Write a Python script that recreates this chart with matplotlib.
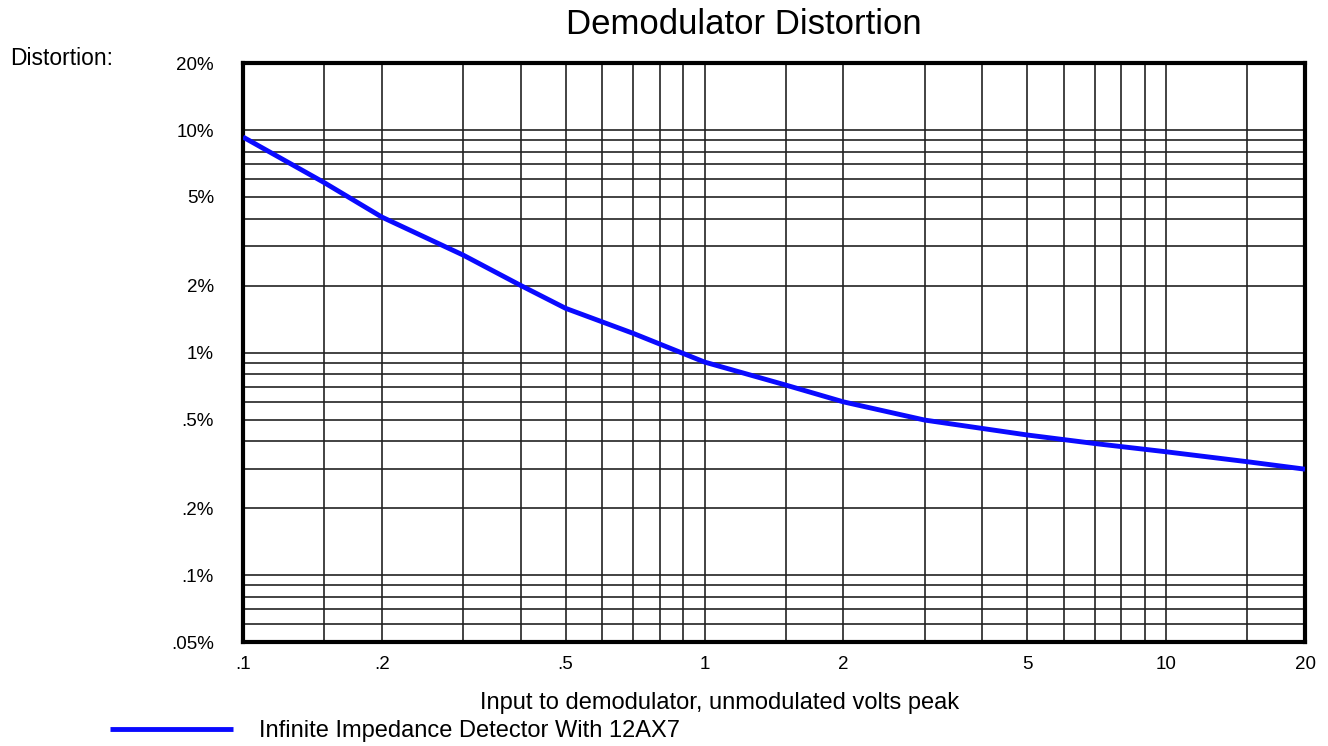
import numpy as np
import matplotlib
matplotlib.use('Agg')
import matplotlib.pyplot as plt

plt.rcParams['font.family'] = ['Liberation Sans', 'DejaVu Sans']

# curve: input volts peak vs distortion (%)
volts = [0.1, 0.15, 0.2, 0.3, 0.4, 0.5, 0.7, 1.0, 1.5, 2.0, 3.0, 5.0, 7.0, 10.0, 15.0, 20.0]
distortion = [9.3, 5.8, 4.06, 2.74, 2.0, 1.58, 1.22, 0.906, 0.714, 0.60, 0.497, 0.426, 0.39, 0.358, 0.323, 0.299]

xticks = [0.1, 0.2, 0.5, 1, 2, 5, 10, 20]
xticklabels = ['.1', '.2', '.5', '1', '2', '5', '10', '20']
xminor = [0.15, 0.3, 0.4, 0.6, 0.7, 0.8, 0.9, 1.5, 3, 4, 6, 7, 8, 9, 15]

yticks = [0.05, 0.1, 0.2, 0.5, 1, 2, 5, 10, 20]
yticklabels = ['.05%', '.1%', '.2%', '.5%', '1%', '2%', '5%', '10%', '20%']
yminor = [0.06, 0.07, 0.08, 0.09, 0.3, 0.4, 0.6, 0.7, 0.8, 0.9, 3, 4, 6, 7, 8, 9]

fig = plt.figure(figsize=(13.28, 7.46), dpi=100)
ax = fig.add_axes([0.183, 0.1394, 0.7997, 0.7761])

line, = ax.plot(volts, distortion, color='#0a0aff', lw=3.5, solid_capstyle='butt',
                label='Infinite Impedance Detector With 12AX7', zorder=3)

ax.set_xscale('log')
ax.set_yscale('log')
ax.set_xlim(0.1, 20)
ax.set_ylim(0.05, 20)

ax.set_xticks(xticks)
ax.set_xticklabels(xticklabels)
ax.set_xticks(xminor, minor=True)
ax.set_yticks(yticks)
ax.set_yticklabels(yticklabels)
ax.set_yticks(yminor, minor=True)
ax.xaxis.set_minor_formatter(matplotlib.ticker.NullFormatter())
ax.yaxis.set_minor_formatter(matplotlib.ticker.NullFormatter())

ax.tick_params(which='both', length=0)
ax.tick_params(axis='x', pad=10, labelsize=13.5)
ax.tick_params(axis='y', pad=21, labelsize=13.5)

ax.grid(True, which='both', color='#222222', lw=1.2)
ax.set_axisbelow(True)
for s in ax.spines.values():
    s.set_linewidth(3)
    s.set_color('black')

fig.text(0.560, 0.967, 'Demodulator Distortion', ha='center', va='center',
         fontsize=25)
fig.text(0.008, 0.922, 'Distortion:', ha='left', va='center', fontsize=16.5)
fig.text(0.542, 0.057, 'Input to demodulator, unmodulated volts peak',
         ha='center', va='center', fontsize=17)

fig.legend(handles=[line], loc='center left', bbox_to_anchor=(0.0828, 0.020),
           frameon=False, fontsize=17, handlelength=5.2, handletextpad=1.1,
           borderpad=0, borderaxespad=0)

plt.savefig('out.png', dpi=100)
